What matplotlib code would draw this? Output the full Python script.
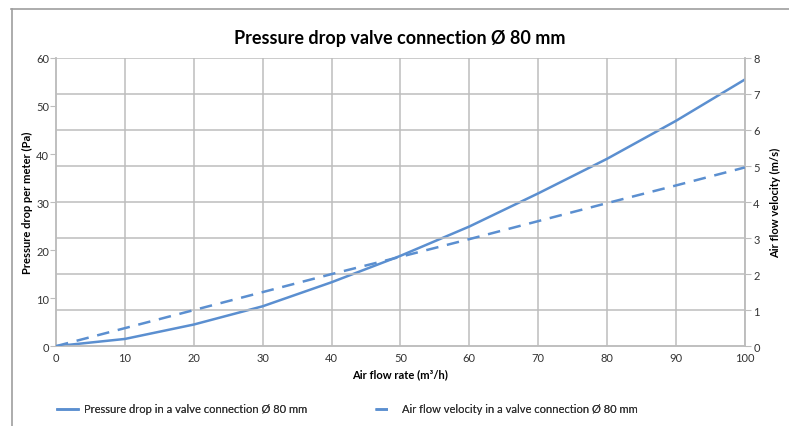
import matplotlib
matplotlib.use("Agg")
import matplotlib.pyplot as plt
from matplotlib.lines import Line2D

flow = [0, 10, 20, 30, 40, 50, 60, 70, 80, 90, 100]
pressure = [0, 1.5, 4.5, 8.3, 13.3, 18.8, 24.9, 31.8, 39.0, 46.9, 55.5]
velocity = [0, 0.5, 1.0, 1.5, 2.0, 2.48, 2.97, 3.47, 3.97, 4.46, 4.96]
x_ticks = [0, 10, 20, 30, 40, 50, 60, 70, 80, 90, 100]
y_left_ticks = [0, 10, 20, 30, 40, 50, 60]
y_right_ticks = [0, 1, 2, 3, 4, 5, 6, 7, 8]

title = "Pressure drop valve connection Ø 80 mm"
xlabel = "Air flow rate (m³/h)"
ylabel_left = "Pressure drop per meter (Pa)"
ylabel_right = "Air flow velocity (m/s)"
legend_labels = ["Pressure drop in a valve connection Ø 80 mm",
                 "Air flow velocity in a valve connection Ø 80 mm"]

plt.rcParams['font.family'] = ['Lato', 'DejaVu Sans']
color = "#5b8fd0"
grid_c = "#bdbdbd"
txt_c = "#333333"

fig = plt.figure(figsize=(7.89, 4.27), dpi=100)
ax = fig.add_axes([0.071, 0.187, 0.873, 0.675])
ax2 = ax.twinx()

ax.set_xlim(0, 100)
ax.set_ylim(0, 60)
ax2.set_ylim(0, 8)
ax.set_xticks(x_ticks)
ax.set_yticks(y_left_ticks)
ax2.set_yticks(y_right_ticks)

ax.grid(False)
for xv in x_ticks[1:]:
    ax.axvline(xv, color=grid_c, lw=1.1, zorder=0)
for yv in y_right_ticks[1:]:
    ax2.axhline(yv, color=grid_c, lw=1.1, zorder=0)

for a in (ax, ax2):
    for s in a.spines.values():
        s.set_color(grid_c)
        s.set_linewidth(1.1)
    a.spines['top'].set_visible(False)

ax.tick_params(axis='y', length=4, color=grid_c, labelsize=8, labelcolor=txt_c, pad=1)
ax.tick_params(axis='x', length=0, labelsize=8, labelcolor=txt_c, pad=4)
ax2.tick_params(axis='y', length=4, color=grid_c, labelsize=8, labelcolor=txt_c, pad=2)

ax.plot(flow, pressure, color=color, lw=1.8, zorder=3)
ax2.plot(flow, velocity, color=color, lw=1.8, dashes=(5, 3.5), zorder=3)

ax.set_xlabel(xlabel, fontsize=8, fontweight='bold', labelpad=4)
ax.set_ylabel(ylabel_left, fontsize=8, fontweight='bold')
ax.yaxis.set_label_coords(-0.033, 0.5)
ax2.set_ylabel(ylabel_right, fontsize=8, fontweight='bold')
ax2.yaxis.set_label_coords(1.037, 0.5)

fig.text(0.507, 0.91, title, ha='center', va='center', fontsize=13, fontweight='bold')

# outer frame (top and left edges)
fig.add_artist(Line2D([0.014, 1.0], [0.976, 0.976], color="#9e9e9e", lw=1.2, transform=fig.transFigure))
fig.add_artist(Line2D([0.015, 0.015], [0.0, 0.976], color="#9e9e9e", lw=1.2, transform=fig.transFigure))

h1 = Line2D([], [], color=color, lw=1.8)
h2 = Line2D([], [], color=color, lw=1.8, dashes=(5, 3.5))
for h, lab, x0 in [(h1, legend_labels[0], 0.0722), (h2, legend_labels[1], 0.475)]:
    leg = fig.legend([h], [lab], loc='center left', bbox_to_anchor=(x0, 0.04),
                     frameon=False, fontsize=8, handlelength=1.9, handletextpad=0.55,
                     borderpad=0, borderaxespad=0, labelcolor=txt_c)
    fig.add_artist(leg)

fig.savefig("out.png", dpi=100)
